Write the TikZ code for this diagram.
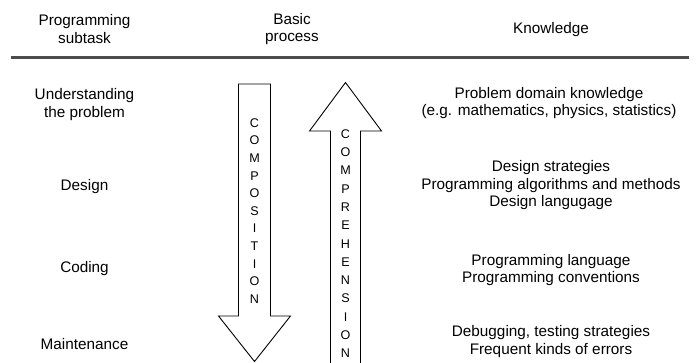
\documentclass[tikz,border=0pt]{standalone}
\usepackage{fontspec}
\setmainfont{Liberation Sans}
\begin{document}
\begin{tikzpicture}[x=1pt,y=-1pt,
  txt/.style={align=center,inner sep=0pt,font=\fontsize{15.3}{17.5}\selectfont},
  arrowbody/.style={draw=black,line width=0.9pt,line join=miter},
  letters/.style={align=center,inner sep=0pt,font=\fontsize{12.6}{#1}\selectfont},
  rule/.style={draw=black!70,line width=2.2pt}]
\useasboundingbox (0,0) rectangle (698,362);

% column headings
\node[txt] (hsub)  at (84.5,28.8) {Programming\\subtask};
\node[txt] (hproc) at (292,28.8)  {Basic\\process};
\node[txt] (hknow) at (551,29.4)  {Knowledge};
\coordinate (ruleL) at (11,57.5);
\coordinate (ruleR) at (689,57.5);
\draw[rule] (ruleL) -- (ruleR);

% programming subtasks
\node[txt] (sub1) at (84.5,104.5) {Understanding\\the problem};
\node[txt] (sub2) at (84.5,186.3) {Design};
\node[txt] (sub3) at (84.5,269)   {Coding};
\node[txt] (sub4) at (84.5,343.9) {Maintenance};

% knowledge per subtask
\node[txt] (k1) at (549,103)   {Problem domain knowledge\\(e.g. mathematics, physics, statistics)};
\node[txt] (k2) at (551,185.2) {Design strategies\\Programming algorithms and methods\\Design langugage};
\node[txt] (k3) at (551,269.8) {Programming language\\Programming conventions};
\node[txt] (k4) at (551,341.3) {Debugging, testing strategies\\Frequent kinds of errors};

% composition: downward block arrow
\draw[arrowbody] (238.5,84) -- (270.5,84) -- (270.5,316) -- (290.5,316)
  -- (254.5,361.5) -- (218.5,316) -- (238.5,316) -- cycle;
\node[letters=17.6] (comp) at (254.5,210.8)
  {C\\O\\M\\P\\O\\S\\I\\T\\I\\O\\N};

% comprehension: upward block arrow, shaft running off the bottom
\draw[arrowbody] (330.5,366) -- (330.5,131) -- (309.5,131) -- (345.5,82.5)
  -- (381.5,131) -- (360.5,131) -- (360.5,366);
\node[letters=18.3] (compr) at (345.5,243.6)
  {C\\O\\M\\P\\R\\E\\H\\E\\N\\S\\I\\O\\N};
\end{tikzpicture}
\end{document}
